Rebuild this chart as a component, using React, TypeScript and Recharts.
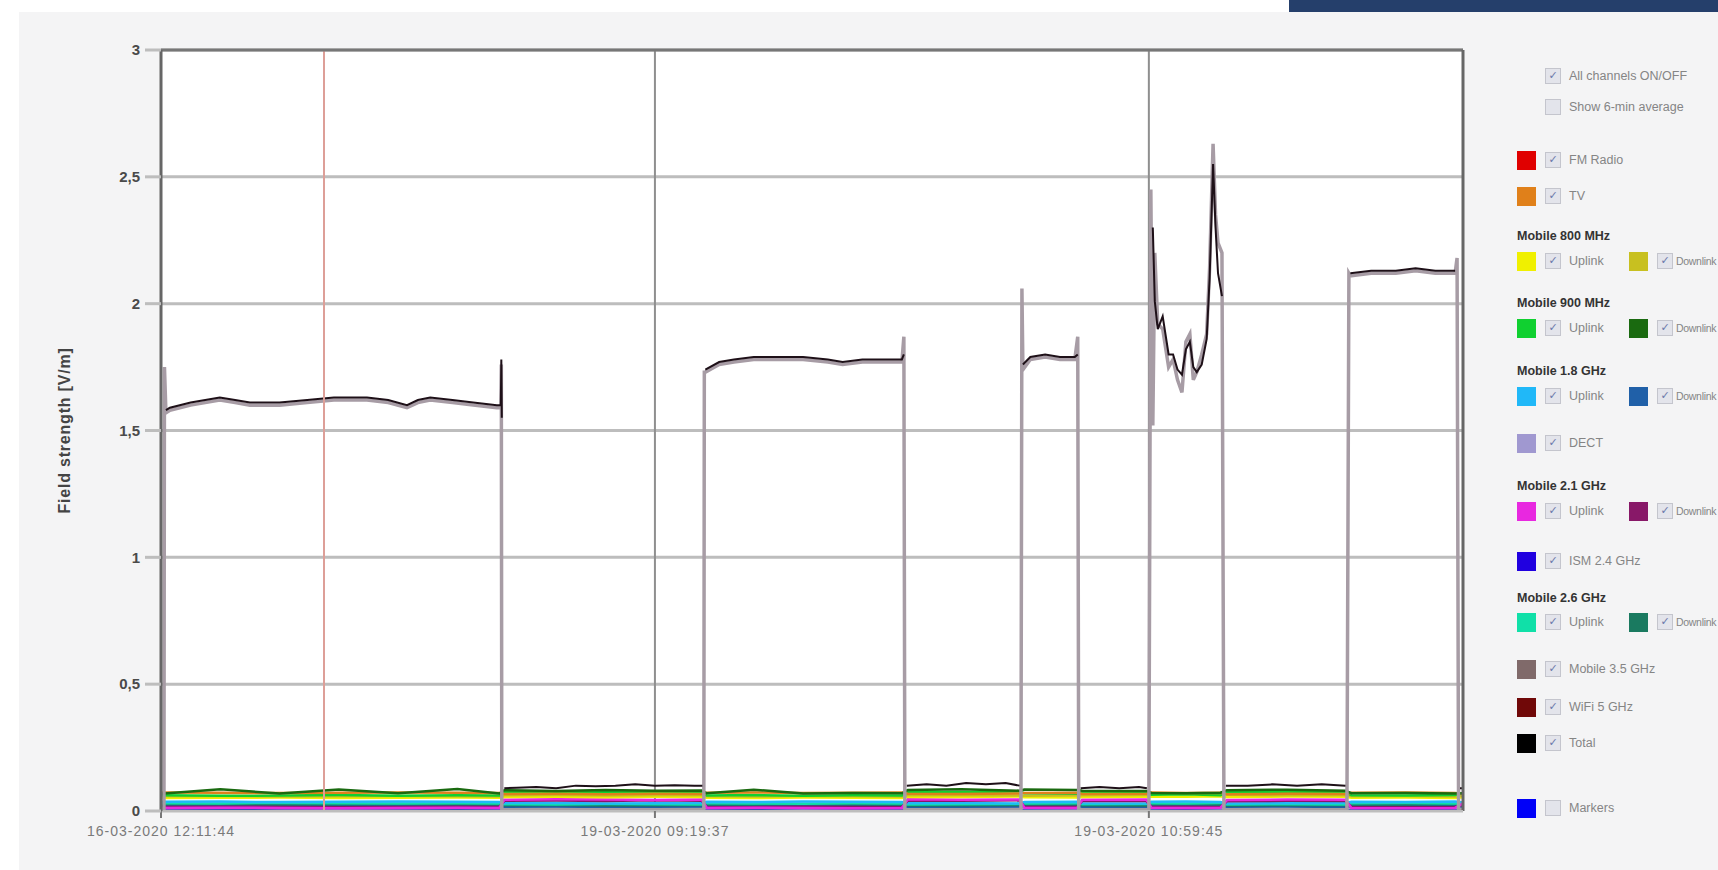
import React from 'react';
import { LineChart, Line, XAxis, YAxis, CartesianGrid, ReferenceLine, Label } from 'recharts';

// axis ticks (x is sample index of the merged measurement log)
const xTicks = [0, 1000, 2000];
const xTickLabels = ['16-03-2020 12:11:44', '19-03-2020 09:19:37', '19-03-2020 10:59:45'];
const xMax = 2636;
const yTicks = [0, 0.5, 1, 1.5, 2, 2.5, 3];
const yTickLabels = ['0', '0,5', '1', '1,5', '2', '2,5', '3'];
const markerAt = 330;

// Total + Mobile 3.5 GHz, sampled densely (gaps between files are null in Total)
const traceS = [
  0, 6, 7, 10, 18, 60, 119, 150, 180, 240, 296, 350, 417, 460, 498, 520, 545, 590, 632, 680, 688, 689, 690, 692,
  695, 720, 760, 800, 840, 880, 920, 960, 1000, 1040, 1080, 1096, 1099,
  1100, 1102, 1130, 1160, 1200, 1250, 1300, 1350, 1380, 1420, 1460, 1500, 1504, 1506,
  1510, 1550, 1590, 1630, 1670, 1710, 1738, 1741,
  1743, 1745, 1760, 1790, 1820, 1850, 1856, 1858,
  1862, 1900, 1940, 1980, 1996, 1998,
  2000, 2004, 2008, 2012, 2018, 2028, 2040, 2049, 2058, 2067, 2075, 2083, 2090, 2097, 2107, 2117, 2123, 2130, 2135, 2140, 2148, 2152,
  2156, 2200, 2250, 2300, 2350, 2398, 2401,
  2405, 2408, 2450, 2500, 2540, 2580, 2620, 2624, 2627, 2630, 2636,
];
const totalV = [
  0.09, null, null, 1.58, 1.59, 1.61, 1.63, 1.62, 1.61, 1.61, 1.62, 1.63, 1.63, 1.62, 1.6, 1.62, 1.63, 1.62, 1.61, 1.6, 1.6, 1.78, 1.55, null,
  0.09, 0.092, 0.095, 0.09, 0.1, 0.098, 0.1, 0.105, 0.1, 0.102, 0.1, 0.1, null,
  null, 1.74, 1.77, 1.78, 1.79, 1.79, 1.79, 1.78, 1.77, 1.78, 1.78, 1.78, 1.8, null,
  0.1, 0.105, 0.1, 0.11, 0.105, 0.11, 0.1, null,
  null, 1.76, 1.79, 1.8, 1.79, 1.79, 1.8, null,
  0.09, 0.095, 0.09, 0.095, 0.09, null,
  null, null, 2.3, 2.01, 1.9, 1.95, 1.8, 1.8, 1.74, 1.72, 1.82, 1.85, 1.75, 1.73, 1.76, 1.86, 2.1, 2.55, 2.3, 2.12, 2.03, null,
  0.1, 0.1, 0.105, 0.1, 0.105, 0.1, null,
  null, 2.12, 2.13, 2.13, 2.14, 2.13, 2.13, null, null, 0.09, 0.09,
];
const mobile35V = [
  0.005, 0.005, 1.75, 1.57, 1.58, 1.6, 1.62, 1.61, 1.6, 1.6, 1.61, 1.62, 1.62, 1.61, 1.59, 1.61, 1.62, 1.61, 1.6, 1.59, 1.59, 1.76, 0.005, 0.005,
  0.005, 0.005, 0.005, 0.005, 0.005, 0.005, 0.005, 0.005, 0.005, 0.005, 0.005, 0.005, 0.005,
  1.73, 1.73, 1.76, 1.77, 1.78, 1.78, 1.78, 1.77, 1.76, 1.77, 1.77, 1.77, 1.87, 0.005,
  0.005, 0.005, 0.005, 0.005, 0.005, 0.005, 0.005, 0.005,
  2.06, 1.74, 1.78, 1.79, 1.78, 1.78, 1.87, 0.005,
  0.005, 0.005, 0.005, 0.005, 0.005, 0.005,
  0.005, 2.45, 1.52, 2.2, 1.92, 1.9, 1.75, 1.78, 1.7, 1.65, 1.85, 1.88, 1.7, 1.73, 1.8, 1.88, 2.14, 2.63, 2.35, 2.24, 2.2, 0.005,
  0.005, 0.005, 0.005, 0.005, 0.005, 0.005, 0.005,
  2.12, 2.11, 2.12, 2.12, 2.13, 2.12, 2.12, 2.18, 0.005, 0.005, 0.005,
];

// the individual channels near the floor
const chS = [
  0, 120, 240, 360, 480, 600, 685,
  695, 800, 900, 1000, 1095,
  1105, 1200, 1300, 1400, 1500,
  1512, 1620, 1738,
  1748, 1855,
  1865, 1995,
  2005, 2075, 2145,
  2158, 2280, 2398,
  2410, 2520, 2620,
  2636,
];
const fmV = [0.004, 0.004, 0.005, 0.004, 0.004, 0.005, 0.004, 0.004, 0.005, 0.004, 0.004, 0.004, 0.004, 0.005, 0.004, 0.004, 0.005, 0.004, 0.004, 0.004, 0.005, 0.004, 0.004, 0.004, 0.004, 0.005, 0.004, 0.004, 0.004, 0.005, 0.004, 0.004, 0.005, 0.004];
const wifi5V = [0.003, 0.003, 0.003, 0.002, 0.003, 0.003, 0.003, 0.003, 0.002, 0.003, 0.003, 0.003, 0.003, 0.003, 0.002, 0.003, 0.003, 0.003, 0.003, 0.002, 0.003, 0.003, 0.003, 0.003, 0.003, 0.002, 0.003, 0.003, 0.003, 0.003, 0.002, 0.003, 0.003, 0.003];
const ismV = [0.006, 0.007, 0.006, 0.005, 0.006, 0.007, 0.006, 0.006, 0.005, 0.006, 0.007, 0.006, 0.006, 0.007, 0.005, 0.006, 0.007, 0.006, 0.005, 0.006, 0.007, 0.006, 0.005, 0.006, 0.006, 0.007, 0.006, 0.005, 0.006, 0.007, 0.006, 0.005, 0.006, 0.006];
const dectV = [0.011, 0.012, 0.011, 0.01, 0.011, 0.012, 0.011, 0.01, 0.011, 0.012, 0.01, 0.011, 0.011, 0.012, 0.01, 0.011, 0.012, 0.01, 0.011, 0.012, 0.011, 0.01, 0.012, 0.011, 0.011, 0.012, 0.01, 0.011, 0.01, 0.012, 0.011, 0.012, 0.011, 0.011];
const down18V = [0.02, 0.021, 0.019, 0.02, 0.021, 0.02, 0.019, 0.017, 0.018, 0.016, 0.017, 0.018, 0.02, 0.019, 0.021, 0.02, 0.019, 0.016, 0.017, 0.018, 0.02, 0.021, 0.017, 0.016, 0.021, 0.02, 0.019, 0.017, 0.018, 0.016, 0.02, 0.021, 0.019, 0.018];
const down26V = [0.027, 0.028, 0.026, 0.027, 0.028, 0.027, 0.026, 0.023, 0.024, 0.022, 0.023, 0.024, 0.027, 0.026, 0.028, 0.027, 0.026, 0.022, 0.023, 0.024, 0.026, 0.027, 0.023, 0.022, 0.027, 0.028, 0.026, 0.022, 0.023, 0.024, 0.027, 0.026, 0.028, 0.025];
const up26V = [0.031, 0.03, 0.032, 0.031, 0.03, 0.031, 0.03, 0.027, 0.026, 0.028, 0.027, 0.026, 0.031, 0.03, 0.029, 0.031, 0.03, 0.026, 0.027, 0.028, 0.03, 0.031, 0.027, 0.028, 0.031, 0.03, 0.032, 0.026, 0.027, 0.026, 0.031, 0.032, 0.03, 0.029];
const up18V = [0.036, 0.037, 0.035, 0.036, 0.037, 0.036, 0.035, 0.031, 0.032, 0.03, 0.031, 0.032, 0.036, 0.035, 0.037, 0.036, 0.035, 0.031, 0.032, 0.03, 0.035, 0.036, 0.031, 0.03, 0.036, 0.037, 0.035, 0.03, 0.031, 0.032, 0.036, 0.035, 0.037, 0.033];
const down21V = [0.016, 0.017, 0.016, 0.015, 0.016, 0.017, 0.016, 0.04, 0.041, 0.039, 0.042, 0.04, 0.016, 0.015, 0.017, 0.016, 0.015, 0.041, 0.04, 0.042, 0.017, 0.016, 0.04, 0.039, 0.016, 0.017, 0.015, 0.038, 0.04, 0.039, 0.016, 0.015, 0.016, 0.025];
const up21V = [0.012, 0.013, 0.012, 0.011, 0.012, 0.013, 0.012, 0.044, 0.046, 0.045, 0.043, 0.045, 0.012, 0.013, 0.012, 0.011, 0.012, 0.046, 0.044, 0.045, 0.013, 0.012, 0.044, 0.045, 0.013, 0.012, 0.013, 0.043, 0.045, 0.044, 0.012, 0.011, 0.012, 0.03];
const up800V = [0.051, 0.052, 0.053, 0.051, 0.052, 0.053, 0.052, 0.055, 0.056, 0.054, 0.056, 0.055, 0.052, 0.051, 0.053, 0.052, 0.051, 0.056, 0.055, 0.057, 0.054, 0.053, 0.055, 0.056, 0.057, 0.056, 0.058, 0.055, 0.057, 0.056, 0.052, 0.053, 0.051, 0.054];
const down800V = [0.058, 0.059, 0.057, 0.058, 0.059, 0.058, 0.057, 0.062, 0.063, 0.061, 0.062, 0.063, 0.058, 0.057, 0.059, 0.058, 0.057, 0.063, 0.062, 0.061, 0.06, 0.061, 0.062, 0.063, 0.068, 0.07, 0.069, 0.064, 0.062, 0.063, 0.058, 0.059, 0.057, 0.06];
const up900V = [0.062, 0.06, 0.061, 0.063, 0.06, 0.062, 0.061, 0.075, 0.077, 0.074, 0.076, 0.075, 0.061, 0.063, 0.06, 0.062, 0.061, 0.076, 0.074, 0.077, 0.07, 0.068, 0.075, 0.074, 0.064, 0.066, 0.062, 0.074, 0.076, 0.075, 0.062, 0.061, 0.063, 0.07];
const tvV = [0.073, 0.072, 0.071, 0.072, 0.073, 0.072, 0.071, 0.067, 0.068, 0.066, 0.068, 0.067, 0.072, 0.073, 0.071, 0.072, 0.073, 0.068, 0.067, 0.069, 0.071, 0.072, 0.067, 0.068, 0.073, 0.071, 0.072, 0.066, 0.068, 0.067, 0.072, 0.073, 0.071, 0.068];
const down900V = [0.068, 0.086, 0.069, 0.085, 0.07, 0.087, 0.069, 0.082, 0.079, 0.083, 0.08, 0.081, 0.07, 0.084, 0.069, 0.071, 0.07, 0.083, 0.086, 0.08, 0.085, 0.083, 0.08, 0.079, 0.071, 0.07, 0.072, 0.082, 0.084, 0.08, 0.07, 0.071, 0.069, 0.07];

const traceData = traceS.map((s, i) => ({ s, total: totalV[i], m35: mobile35V[i] }));
const chData = chS.map((s, i) => ({
  s,
  fm: fmV[i], wifi5: wifi5V[i], ism: ismV[i], dect: dectV[i],
  down18: down18V[i], down26: down26V[i], up26: up26V[i], up18: up18V[i],
  down21: down21V[i], up21: up21V[i], up800: up800V[i], down800: down800V[i],
  up900: up900V[i], tv: tvV[i], down900: down900V[i],
}));

// drawing order, bottom first
const channelLines = [
  { key: 'wifi5', color: '#700808' },
  { key: 'fm', color: '#e00000' },
  { key: 'ism', color: '#2a2ab0' },
  { key: 'dect', color: '#a098d0' },
  { key: 'down18', color: '#2060a8' },
  { key: 'down26', color: '#1a7a60' },
  { key: 'up26', color: '#10e0a8' },
  { key: 'up18', color: '#20b8f8' },
  { key: 'down21', color: '#881868' },
  { key: 'up21', color: '#e828e0' },
  { key: 'up800', color: '#f0f000' },
  { key: 'down800', color: '#c8c020' },
  { key: 'up900', color: '#10d030' },
  { key: 'tv', color: '#e0801a' },
  { key: 'down900', color: '#1a6a10' },
];

const font = '"Liberation Sans", Arial, sans-serif';

function Box({ x, y, on }: { x: number; y: number; on: boolean }) {
  return (
    <span
      style={{
        position: 'absolute', left: x, top: y - 8, width: 14, height: 14,
        border: '1px solid #c4c5cd', background: '#e3e4eb', color: '#6a78aa',
        fontSize: 11, lineHeight: '14px', textAlign: 'center', fontFamily: '"DejaVu Sans"',
      }}
    >
      {on ? '✓' : ''}
    </span>
  );
}

function Swatch({ x, y, color }: { x: number; y: number; color: string }) {
  return <span style={{ position: 'absolute', left: x, top: y - 9, width: 19, height: 19, background: color }} />;
}

function Txt({ x, y, children, bold, small }: { x: number; y: number; children: React.ReactNode; bold?: boolean; small?: boolean }) {
  return (
    <span
      style={{
        position: 'absolute', left: x, top: y - 8, lineHeight: '16px', whiteSpace: 'nowrap',
        fontSize: small ? 10.5 : 12.5, letterSpacing: small ? -0.3 : 0, fontWeight: bold ? 'bold' : 'normal',
        color: bold ? '#333' : '#858585', fontFamily: font,
      }}
    >
      {children}
    </span>
  );
}

function Single({ y, color, label, on = true }: { y: number; color: string; label: string; on?: boolean }) {
  return (
    <>
      <Swatch x={1517} y={y} color={color} />
      <Box x={1545} y={y} on={on} />
      <Txt x={1569} y={y}>{label}</Txt>
    </>
  );
}

function Pair({ y, up, down }: { y: number; up: string; down: string }) {
  return (
    <>
      <Swatch x={1517} y={y} color={up} />
      <Box x={1545} y={y} on />
      <Txt x={1569} y={y}>Uplink</Txt>
      <Swatch x={1629} y={y} color={down} />
      <Box x={1657} y={y} on />
      <Txt x={1676} y={y} small>Downlink</Txt>
    </>
  );
}

function ChannelLegend() {
  return (
    <>
      <Box x={1545} y={76} on />
      <Txt x={1569} y={76}>All channels ON/OFF</Txt>
      <Box x={1545} y={107} on={false} />
      <Txt x={1569} y={107}>Show 6-min average</Txt>

      <Single y={160} color="#e00000" label="FM Radio" />
      <Single y={196} color="#e0801a" label="TV" />
      <Txt x={1517} y={236} bold>Mobile 800 MHz</Txt>
      <Pair y={261} up="#f0f000" down="#c8c020" />
      <Txt x={1517} y={303} bold>Mobile 900 MHz</Txt>
      <Pair y={328} up="#10d030" down="#1a6a10" />
      <Txt x={1517} y={371} bold>Mobile 1.8 GHz</Txt>
      <Pair y={396} up="#20b8f8" down="#2060a8" />
      <Single y={443} color="#a098d0" label="DECT" />
      <Txt x={1517} y={486} bold>Mobile 2.1 GHz</Txt>
      <Pair y={511} up="#e828e0" down="#881868" />
      <Single y={561} color="#2000e0" label="ISM 2.4 GHz" />
      <Txt x={1517} y={598} bold>Mobile 2.6 GHz</Txt>
      <Pair y={622} up="#10e0a8" down="#1a7a60" />
      <Single y={669} color="#806a6a" label="Mobile 3.5 GHz" />
      <Single y={707} color="#700808" label="WiFi 5 GHz" />
      <Single y={743} color="#000000" label="Total" />
      <Single y={808} color="#0000f8" label="Markers" on={false} />
    </>
  );
}

function YTitle(props: any) {
  const vb = props.viewBox || { x: 20, y: 50, height: 761 };
  const cx = vb.x + 44;
  const cy = vb.y + vb.height / 2;
  return (
    <text
      x={cx} y={cy} transform={`rotate(-90, ${cx}, ${cy})`} textAnchor="middle" dominantBaseline="central"
      fill="#444" fontSize={16} fontWeight="bold" letterSpacing={0.8} fontFamily={font}
    >
      Field strength [V/m]
    </text>
  );
}

export default function App() {
  return (
    <div style={{ position: 'absolute', left: 0, top: 0, width: 1718, height: 870, background: '#fff', overflow: 'hidden', fontFamily: font }}>
      <div style={{ position: 'absolute', left: 1289, top: 0, width: 429, height: 12, background: '#253f6b' }} />
      <div style={{ position: 'absolute', left: 19, top: 12, right: 0, bottom: 0, background: '#f4f4f5' }} />

      <div style={{ position: 'absolute', left: 0, top: 0 }}>
        <LineChart width={1480} height={870} margin={{ top: 50, right: 17, bottom: 29, left: 20 }}>
          <CartesianGrid horizontal vertical={false} stroke="#bdbdbd" strokeWidth={3} fill="#fff" />
          <CartesianGrid horizontal={false} vertical stroke="#8f8f8f" strokeWidth={2} />
          <XAxis
            dataKey="s" type="number" domain={[0, xMax]} ticks={xTicks} allowDataOverflow
            tickFormatter={(v: number) => xTickLabels[xTicks.indexOf(v)] ?? ''}
            tick={{ fill: '#7a7a7a', fontSize: 14, fontFamily: font, letterSpacing: 1 }}
            tickSize={7} tickMargin={8} height={30}
            axisLine={{ stroke: '#bdbdbd', strokeWidth: 2 }} tickLine={{ stroke: '#777', strokeWidth: 2 }}
          />
          <YAxis
            type="number" domain={[0, 3]} ticks={yTicks} width={141}
            tickFormatter={(v: number) => yTickLabels[yTicks.indexOf(v)] ?? ''}
            tick={{ fill: '#4a4a4a', fontSize: 15, fontWeight: 'bold', fontFamily: font }}
            tickSize={16} tickMargin={5}
            axisLine={{ stroke: '#666', strokeWidth: 3 }} tickLine={{ stroke: '#bdbdbd', strokeWidth: 3 }}
          >
            <Label content={<YTitle />} />
          </YAxis>

          {channelLines.map((c) => (
            <Line
              key={c.key} data={chData} dataKey={c.key} type="linear" stroke={c.color} strokeWidth={2.5}
              dot={false} activeDot={false} isAnimationActive={false}
            />
          ))}
          <Line
            data={traceData} dataKey="m35" type="linear" stroke="#a79ca5" strokeWidth={3.5}
            dot={false} activeDot={false} isAnimationActive={false}
          />
          <Line
            data={traceData} dataKey="total" type="linear" stroke="#1e1018" strokeWidth={2}
            dot={false} activeDot={false} isAnimationActive={false}
          />

          <ReferenceLine x={markerAt} stroke="#dd9f98" strokeWidth={2} />
          <ReferenceLine y={3} stroke="#777" strokeWidth={3} />
          <ReferenceLine x={xMax} stroke="#666" strokeWidth={3} />
        </LineChart>
      </div>

      <ChannelLegend />
    </div>
  );
}
